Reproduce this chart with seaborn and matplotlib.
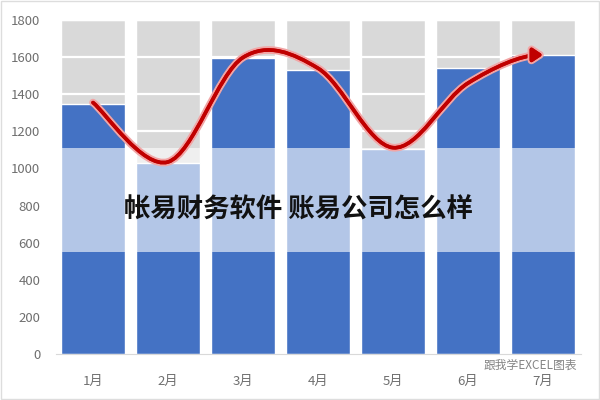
import numpy as np
import pandas as pd
import matplotlib
matplotlib.use("Agg")
import matplotlib.pyplot as plt
import seaborn as sns
from matplotlib.path import Path
from matplotlib.patches import FancyArrowPatch, Rectangle
import matplotlib.patheffects as pe

# ---- data ----
months = ["1月", "2月", "3月", "4月", "5月", "6月", "7月"]
sales = [1347, 1030, 1595, 1530, 1105, 1541, 1611]
axis_max = [1800, 1800, 1800, 1800, 1800, 1800, 1800]
trend = [1355, 1035, 1598, 1540, 1112, 1460, 1612]
band_low = 550
band_high = 1110
yticks = [0, 200, 400, 600, 800, 1000, 1200, 1400, 1600, 1800]
title = "帐易财务软件 账易公司怎么样"
watermark = "跟我学EXCEL图表"

sns.set_style("white")
plt.rcParams["font.family"] = ["Noto Sans CJK SC", "DejaVu Sans"]

df = pd.DataFrame({"month": months, "sales": sales, "max": axis_max})

fig = plt.figure(figsize=(6, 4), dpi=100)
ax = fig.add_axes([0.0925, 0.115, 0.875, 0.835])

sns.barplot(data=df, x="month", y="max", color="#d9d9d9", width=0.86,
            saturation=1, ax=ax, zorder=0)
# white gridlines over gray background bars
ax.hlines(yticks[1:], -0.5, 6.5, colors="white", linewidth=1.6, zorder=0.5)
sns.barplot(data=df, x="month", y="sales", color="#4472c4", width=0.86,
            saturation=1, ax=ax, zorder=1)
# translucent band
ax.axhspan(band_low, band_high, color="white", alpha=0.6, lw=0, zorder=2)

ax.set_xlim(-0.5, 6.5)
ax.set_ylim(0, 1800)
ax.set_yticks(yticks)
ax.set_xlabel("")
ax.set_ylabel("")
for s in ["top", "right", "left"]:
    ax.spines[s].set_visible(False)
ax.spines["bottom"].set_color("#d9d9d9")
ax.spines["bottom"].set_zorder(3)
ax.tick_params(axis="both", length=0, colors="#6f6f6f", labelsize=9.5)
ax.tick_params(axis="y", pad=11)
ax.tick_params(axis="x", pad=15)

# smooth trend curve (Catmull-Rom as cubic Bezier)
xs = np.arange(len(trend), dtype=float)
ys = np.array(trend, dtype=float)
verts = [(xs[0], ys[0])]
codes = [Path.MOVETO]
n = len(xs)
for i in range(n - 1):
    p0 = np.array([xs[max(i - 1, 0)], ys[max(i - 1, 0)]])
    p1 = np.array([xs[i], ys[i]])
    p2 = np.array([xs[i + 1], ys[i + 1]])
    p3 = np.array([xs[min(i + 2, n - 1)], ys[min(i + 2, n - 1)]])
    c1 = p1 + (p2 - p0) / 6.0
    c2 = p2 - (p3 - p1) / 6.0
    if i == n - 2:
        c2 = np.array([p2[0] - 0.3, p2[1]])
    verts += [tuple(c1), tuple(c2), tuple(p2)]
    codes += [Path.CURVE4] * 3
path = Path(verts, codes)
arrow = FancyArrowPatch(path=path, arrowstyle="-|>,head_length=6,head_width=4",
                        color="#c00000", lw=2.6, zorder=5,
                        path_effects=[pe.withStroke(linewidth=5.5, foreground="#f2a5a5"),
                                      pe.Normal()])
ax.add_patch(arrow)

fig.text(0.497, 0.475, title, ha="center", va="center", fontsize=19,
         fontweight="black", color="#111111", zorder=10)
fig.text(0.962, 0.087, watermark, ha="right", va="center", fontsize=8.5,
         color="#6f6f6f", alpha=0.85, zorder=10)

fig.patches.append(Rectangle((0.002, 0.003), 0.996, 0.994, transform=fig.transFigure,
                             fill=False, edgecolor="#dddddd", lw=1))

fig.savefig("out.png", dpi=100)
